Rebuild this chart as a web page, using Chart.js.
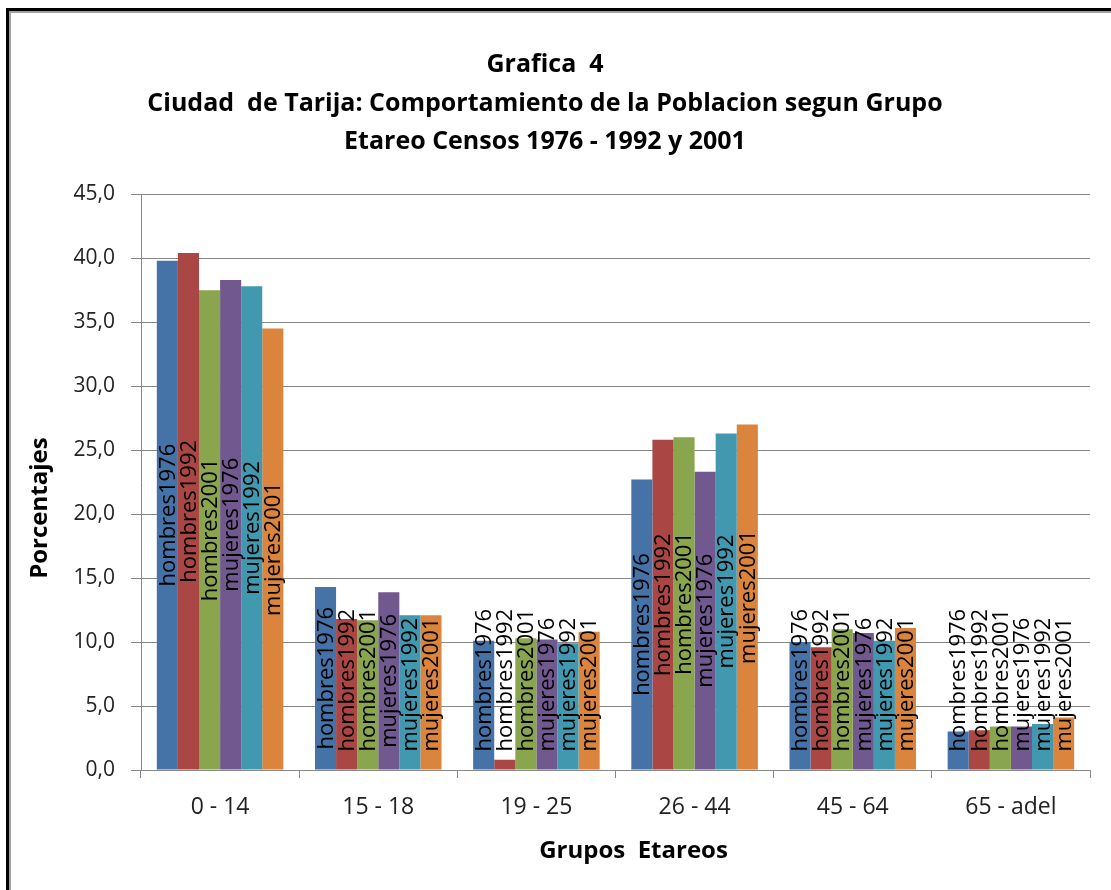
<!DOCTYPE html>
<html>
<head>
<meta charset="utf-8">
<script src="https://cdn.jsdelivr.net/npm/chart.js@4"></script>
<style>
  html, body { margin: 0; padding: 0; background: #fff; overflow: hidden; }
  #wrap { position: relative; width: 1111px; height: 890px; }
  #frame {
    position: absolute; left: 6px; top: 8px; width: 1200px; height: 1000px;
    border-left: 3px solid #000; border-top: 3px solid #000;
    box-shadow: inset 2px 2px 0 #a0a0a0;
  }
  canvas { position: absolute; left: 0; top: 0; }
</style>
</head>
<body>
<div id="wrap">
  <div id="frame"></div>
  <canvas id="chart" width="1111" height="890"></canvas>
</div>
<script>
// Grupos etareos (eje X)
const categories = ["0 - 14", "15 - 18", "19 - 25", "26 - 44", "45 - 64", "65 - adel"];

// Porcentajes por serie
const hombres1976 = [39.8, 14.3, 10.1, 22.7, 10.0, 3.0];
const hombres1992 = [40.4, 11.8, 0.8, 25.8, 9.6, 3.1];
const hombres2001 = [37.5, 11.7, 10.3, 26.0, 11.0, 3.4];
const mujeres1976 = [38.3, 13.9, 10.2, 23.3, 10.7, 3.4];
const mujeres1992 = [37.8, 12.1, 9.9, 26.3, 10.1, 3.6];
const mujeres2001 = [34.5, 12.1, 10.8, 27.0, 11.1, 4.1];

const seriesNames = ["hombres1976", "hombres1992", "hombres2001", "mujeres1976", "mujeres1992", "mujeres2001"];
const seriesColors = ["#4572A7", "#AA4643", "#89A54E", "#71588F", "#4198AF", "#DB843D"];
const seriesData = [hombres1976, hombres1992, hombres2001, mujeres1976, mujeres1992, mujeres2001];

const titleLines = ["Grafica  4", "Ciudad  de Tarija: Comportamiento de la Poblacion segun Grupo", "Etareo Censos 1976 - 1992 y 2001"];
const xTitle = "Grupos  Etareos";
const yTitle = "Porcentajes";

const FONT = "'Open Sans', 'DejaVu Sans', sans-serif";

// Series name written vertically inside each bar (like Excel data labels)
const barLabels = {
    id: "barLabels",
    afterDatasetsDraw(chart) {
        const ctx = chart.ctx;
        ctx.save();
        ctx.font = "22px " + FONT;
        ctx.fillStyle = "#000";
        ctx.textAlign = "center";
        ctx.textBaseline = "middle";
        chart.data.datasets.forEach((ds, i) => {
            const meta = chart.getDatasetMeta(i);
            meta.data.forEach(bar => {
                const len = ctx.measureText(ds.label).width;
                let c = (bar.y + bar.base) / 2;
                c = Math.min(c, bar.base - 18 - len / 2);
                ctx.save();
                ctx.translate(bar.x, c);
                ctx.rotate(-Math.PI / 2);
                ctx.fillText(ds.label, 0, 1);
                ctx.restore();
            });
        });
        ctx.restore();
    }
};

// Axis titles, placed off-centre the way Excel put them
const axisTitles = {
    id: "axisTitles",
    afterDraw(chart) {
        const ctx = chart.ctx;
        const a = chart.chartArea;
        ctx.save();
        ctx.font = "bold 24px " + FONT;
        ctx.fillStyle = "#000";
        ctx.textAlign = "center";
        ctx.textBaseline = "middle";
        ctx.fillText(xTitle, (a.left + a.right) / 2 + 18, a.bottom + 81);
        ctx.translate(40, (a.top + a.bottom) / 2 + 26);
        ctx.rotate(-Math.PI / 2);
        ctx.fillText(yTitle, 0, 0);
        ctx.restore();
    }
};

new Chart(document.getElementById("chart"), {
    type: "bar",
    data: {
        labels: categories,
        datasets: seriesData.map((d, i) => ({
            label: seriesNames[i],
            data: d,
            backgroundColor: seriesColors[i],
            borderWidth: 0,
            categoryPercentage: 0.8,
            barPercentage: 1.0
        }))
    },
    options: {
        responsive: false,
        animation: false,
        layout: { padding: { left: 0, right: 21, top: 0, bottom: 0 } },
        plugins: {
            legend: { display: false },
            tooltip: { enabled: false },
            title: {
                display: true,
                text: titleLines,
                color: "#000",
                font: { family: FONT, size: 25, weight: "bold", lineHeight: 1.536 },
                padding: { top: 46, bottom: 33 }
            }
        },
        scales: {
            x: {
                afterFit: s => { s.height = 120; },
                grid: { display: true, drawOnChartArea: false, offset: true, color: "#888", tickLength: 8 },
                border: { color: "#888" },
                ticks: { color: "#222", font: { family: FONT, size: 23 }, padding: 16 }
            },
            y: {
                min: 0,
                max: 45,
                afterFit: s => { s.width = 141; },
                grid: { color: "#888", tickLength: 10 },
                border: { color: "#888" },
                ticks: {
                    stepSize: 5,
                    color: "#222",
                    font: { family: FONT, size: 21 },
                    padding: 16,
                    callback: v => v.toFixed(1).replace(".", ",")
                }
            }
        }
    },
    plugins: [barLabels, axisTitles]
});
</script>
</body>
</html>
